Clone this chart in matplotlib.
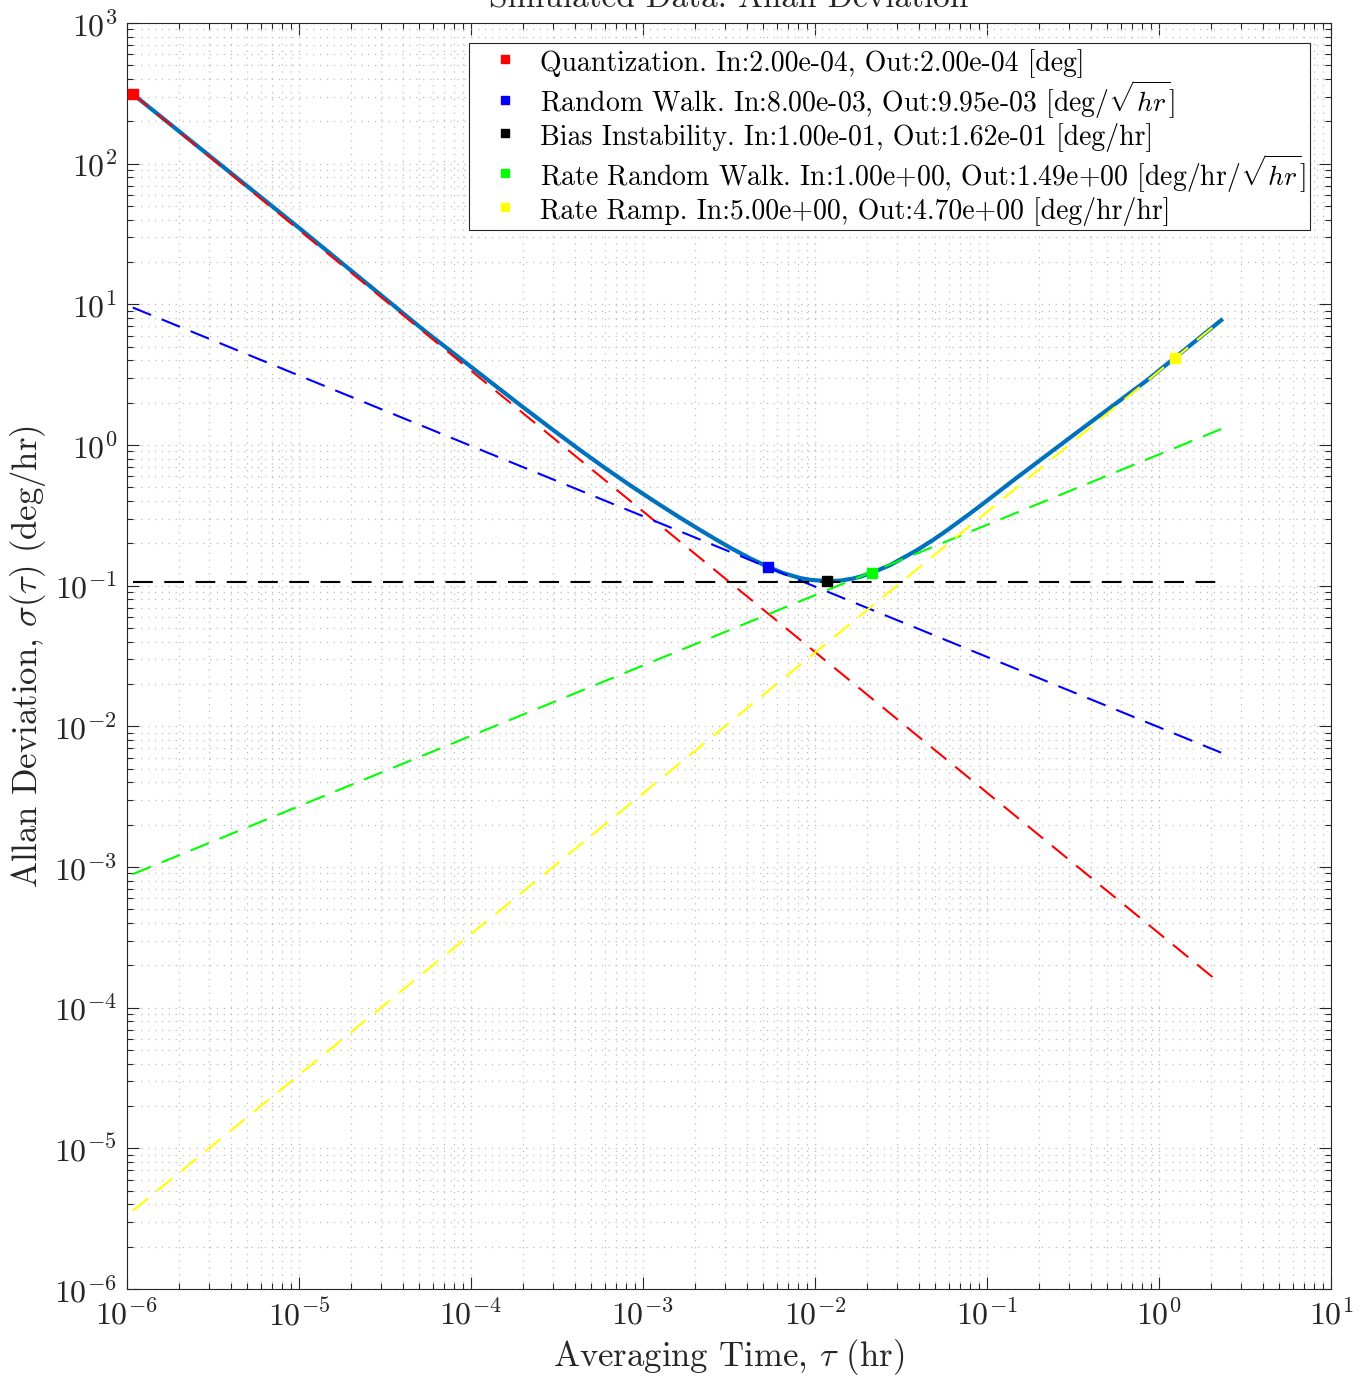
import matplotlib
matplotlib.use('Agg')
import matplotlib.pyplot as plt
from matplotlib.ticker import LogLocator, NullFormatter
import numpy as np

plt.rcParams['font.family'] = 'cmr10'
plt.rcParams['mathtext.fontset'] = 'cm'
plt.rcParams['axes.formatter.use_mathtext'] = True

# measured Allan deviation (tau in hr, sigma in deg/hr)
tau_meas = [1.08e-6, 1.0e-5, 5.26e-5, 1.0e-4, 1.93e-4, 3.0e-4, 4.3e-4, 6.0e-4,
            8.4e-4, 1.10e-3, 1.38e-3, 1.71e-3, 2.14e-3, 2.69e-3, 3.34e-3, 4.19e-3,
            5.34e-3, 6.52e-3, 8.18e-3, 9.35e-3, 1.175e-2, 1.40e-2, 1.66e-2, 1.83e-2,
            2.14e-2, 2.73e-2, 3.92e-2, 4.85e-2, 5.85e-2, 7.66e-2, 9.48e-2, 0.119,
            0.1415, 0.347, 0.851, 1.24, 2.3]
adev_meas = [313, 35.0, 6.62, 3.6, 1.928, 1.28, 0.922, 0.688,
             0.5186, 0.4168, 0.3484, 0.2954, 0.2496, 0.2112, 0.1816, 0.1567,
             0.1361, 0.1231, 0.1135, 0.1102, 0.1077, 0.1087, 0.1124, 0.1158,
             0.1236, 0.1400, 0.1790, 0.2113, 0.2474, 0.3145, 0.3826, 0.4739,
             0.5584, 1.275, 2.884, 4.186, 7.72]

# fitted noise terms, evaluated at both ends of the tau range
tau_fit = [1.08e-6, 2.3]
quant_fit = [313, 1.47e-4]
rw_fit = [9.5, 6.5e-3]
bias_fit = [0.106, 0.106]
rrw_fit = [8.9e-4, 1.30]
ramp_fit = [3.6e-6, 7.7]

mark_tau = [1.08e-6, 5.34e-3, 1.175e-2, 2.14e-2, 1.24]
mark_adev = [313, 0.1361, 0.1077, 0.1236, 4.186]

names = ['Quantization', 'Random Walk', 'Bias Instability',
         'Rate Random Walk', 'Rate Ramp']
val_in = [2.00e-04, 8.00e-03, 1.00e-01, 1.00e+00, 5.00e+00]
val_out = [2.00e-04, 9.95e-03, 1.62e-01, 1.49e+00, 4.70e+00]
units = ['deg', r'deg/$\sqrt{hr}$', 'deg/hr', r'deg/hr/$\sqrt{hr}$', 'deg/hr/hr']
colors = ['#ff0000', '#0000ff', '#000000', '#00ff00', '#ffff00']

fits = [quant_fit, rw_fit, bias_fit, rrw_fit, ramp_fit]

fig = plt.figure(figsize=(13.64, 13.80), dpi=100)
ax = fig.add_axes([0.0931, 0.0659, 0.8827, 0.9174])
ax.set_xscale('log')
ax.set_yscale('log')

ax.plot(tau_meas, adev_meas, color='#0072BD', lw=3, zorder=3)

for fit, c in zip(fits, colors):
    ax.plot(tau_fit, fit, color=c, lw=1.5, dashes=(9.5, 5.5), zorder=4)

for i in range(len(names)):
    lab = '%s. In:%.2e, Out:%.2e [%s]' % (names[i], val_in[i], val_out[i], units[i])
    ax.plot(mark_tau[i], mark_adev[i], 's', color=colors[i], ms=6.5,
            linestyle='none', label=lab, zorder=5)

ax.set_xlim(1e-6, 10)
ax.set_ylim(1e-6, 1e3)
for axis in (ax.xaxis, ax.yaxis):
    axis.set_major_locator(LogLocator(base=10, numticks=20))
    axis.set_minor_locator(LogLocator(base=10, subs=np.arange(2, 10), numticks=20))
    axis.set_minor_formatter(NullFormatter())

ax.grid(True, which='both', linestyle=(0, (1, 4.5)), color='#bdbdbd', lw=0.9)
ax.set_axisbelow(True)
ax.tick_params(which='both', direction='in', top=True, right=True,
               color='#262626', labelsize=23, labelcolor='#262626', width=0.8)
ax.tick_params(which='major', length=8.5)
ax.tick_params(which='minor', length=4.5)
ax.tick_params(axis='x', pad=7)
ax.tick_params(axis='y', pad=7)
for sp in ax.spines.values():
    sp.set_color('#262626')
    sp.set_linewidth(0.8)

ax.set_xlabel(r'Averaging Time, $\tau$ (hr)', fontsize=25, color='#262626')
ax.set_ylabel(r'Allan Deviation, $\sigma(\tau)$ (deg/hr)', fontsize=25, color='#262626')
ax.set_title('Simulated Data: Allan Deviation', fontsize=24, pad=11, color='#262626')

leg = ax.legend(loc='upper right', bbox_to_anchor=(0.9825, 0.9842), fontsize=20,
                frameon=True, fancybox=False, framealpha=1, edgecolor='#262626',
                handlelength=2.3, handleheight=1.25, handletextpad=0.1,
                borderpad=0.15, labelspacing=0.0, markerscale=0.8, borderaxespad=0)
leg.get_frame().set_linewidth(0.8)

fig.savefig('out.png', dpi=100)
